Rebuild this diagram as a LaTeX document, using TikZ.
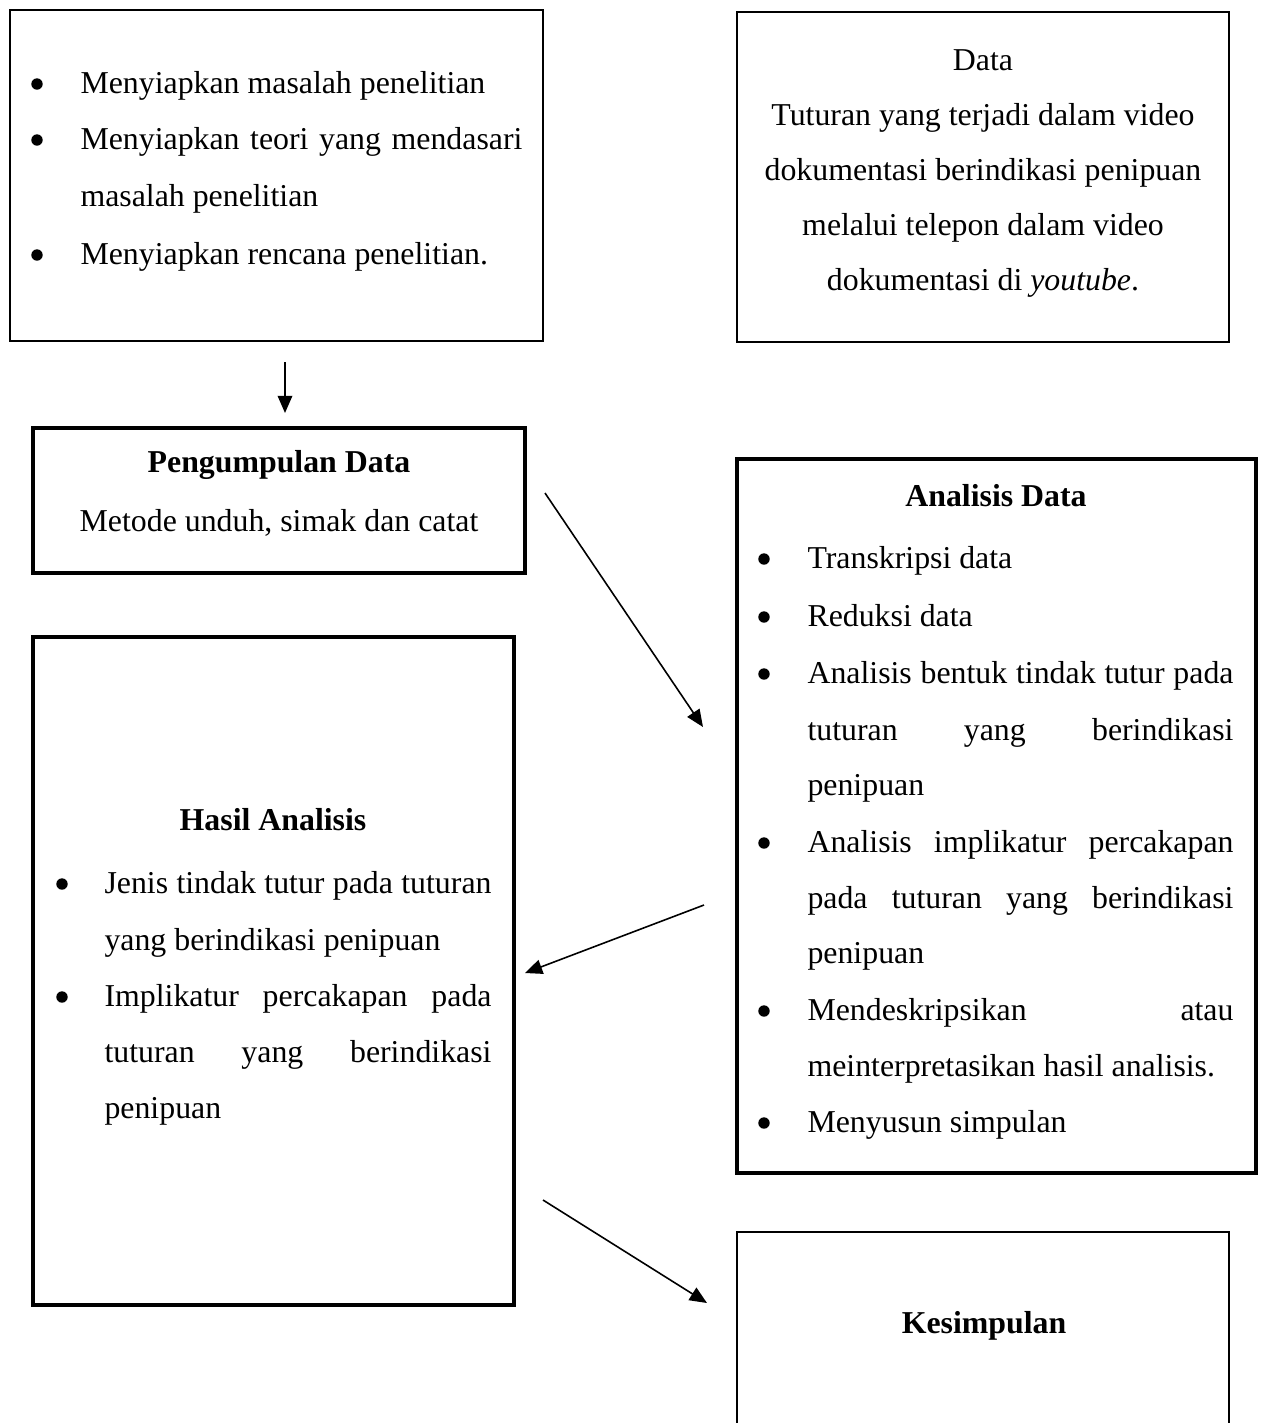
\documentclass[tikz,border=0pt]{standalone}
\usepackage{fontspec}
\setmainfont{Liberation Serif}
\usetikzlibrary{arrows.meta}
\begin{document}
\begin{tikzpicture}[x=0.377pt,y=-0.377pt,
 thinbox/.style={draw, line width=0.8pt, anchor=north west, inner sep=0pt, outer sep=0pt},
 thickbox/.style={draw, line width=1.7pt, anchor=north west, inner sep=0pt, outer sep=0pt},
 txt/.style={anchor=base west, inner sep=0pt, font=\fontsize{12}{14}\selectfont},
 ctxt/.style={anchor=base, inner sep=0pt, font=\fontsize{12}{14}\selectfont},
 btxt/.style={anchor=base, inner sep=0pt, font=\fontsize{12}{14}\selectfont\bfseries},
 bul/.style={circle, fill, inner sep=0pt, minimum size=4.3pt},
 arr/.style={line width=0.6pt, -{Triangle[length=6.5pt,width=5.5pt]}}]
\useasboundingbox (0,0) rectangle (1261,1423);

% boxes
\node[thinbox, minimum width=533*0.377pt, minimum height=331*0.377pt] (b1) at (10,10) {};
\node[thinbox, minimum width=492*0.377pt, minimum height=330*0.377pt] (b2) at (737,12) {};
\node[thickbox, minimum width=492*0.377pt, minimum height=145*0.377pt] (b3) at (33,428) {};
\node[thickbox, minimum width=519*0.377pt, minimum height=714*0.377pt] (b4) at (737,459) {};
\node[thickbox, minimum width=481*0.377pt, minimum height=668*0.377pt] (b5) at (33,637) {};
\draw[line width=0.8pt] (737,1423) -- (737,1232) -- (1229,1232) -- (1229,1423);

% box 1
\node[bul] (b1d1) at (37,84) {};
\node[txt] (b1l1) at (80,93) {Menyiapkan masalah penelitian};
\node[bul] (b1d2) at (37,140) {};
\node[txt] (b1l2) at (80,149) {\makebox[166.6pt][s]{Menyiapkan teori yang mendasari}};
\node[txt] (b1l3) at (80,206) {masalah penelitian};
\node[bul] (b1d3) at (37,255) {};
\node[txt] (b1l4) at (80,264) {Menyiapkan rencana penelitian.};

% box 2
\node[ctxt] (b2l1) at (983,70) {Data};
\node[ctxt] (b2l2) at (983,125) {Tuturan yang terjadi dalam video};
\node[ctxt] (b2l3) at (983,180) {dokumentasi berindikasi penipuan};
\node[ctxt] (b2l4) at (983,235) {melalui telepon dalam video};
\node[ctxt] (b2l5) at (983,290) {dokumentasi di \textit{youtube}.};

% box 3
\node[btxt] (b3l1) at (279,472) {Pengumpulan Data};
\node[ctxt] (b3l2) at (279,531) {Metode unduh, simak dan catat};

% box 4
\node[btxt] (b4t) at (996,506) {Analisis Data};
\node[bul] (b4d1) at (764,559) {};
\node[txt] (b4l1) at (807,568) {Transkripsi data};
\node[bul] (b4d2) at (764,617) {};
\node[txt] (b4l2) at (807,626) {Reduksi data};
\node[bul] (b4d3) at (764,674) {};
\node[txt] (b4l3) at (807,683) {\makebox[160.6pt][s]{Analisis bentuk tindak tutur pada}};
\node[txt] (b4l4) at (807,740) {\makebox[160.6pt][s]{tuturan yang berindikasi}};
\node[txt] (b4l5) at (807,795) {penipuan};
\node[bul] (b4d4) at (764,843) {};
\node[txt] (b4l6) at (807,852) {\makebox[160.6pt][s]{Analisis implikatur percakapan}};
\node[txt] (b4l7) at (807,908) {\makebox[160.6pt][s]{pada tuturan yang berindikasi}};
\node[txt] (b4l8) at (807,963) {penipuan};
\node[bul] (b4d5) at (764,1011) {};
\node[txt] (b4l9) at (807,1020) {\makebox[160.6pt][s]{Mendeskripsikan atau}};
\node[txt] (b4l10) at (807,1076) {meinterpretasikan hasil analisis.};
\node[bul] (b4d6) at (764,1123) {};
\node[txt] (b4l11) at (807,1132) {Menyusun simpulan};

% box 5
\node[btxt] (b5t) at (273,830) {Hasil Analisis};
\node[bul] (b5d1) at (62,884) {};
\node[txt] (b5l1) at (104,893) {\makebox[145.9pt][s]{Jenis tindak tutur pada tuturan}};
\node[txt] (b5l2) at (104,950) {yang berindikasi penipuan};
\node[bul] (b5d2) at (62,997) {};
\node[txt] (b5l3) at (104,1006) {\makebox[145.9pt][s]{Implikatur percakapan pada}};
\node[txt] (b5l4) at (104,1062) {\makebox[145.9pt][s]{tuturan yang berindikasi}};
\node[txt] (b5l5) at (104,1118) {penipuan};

% box 6
\node[btxt] (b6t) at (984,1333) {Kesimpulan};

% arrows
\coordinate (a1s) at (285,362); \coordinate (a1e) at (285,413);
\coordinate (a2s) at (545,493); \coordinate (a2e) at (703,727);
\coordinate (a3s) at (704,905); \coordinate (a3e) at (525,973);
\coordinate (a4s) at (543,1200); \coordinate (a4e) at (707,1303);
\draw[arr] (a1s) -- (a1e);
\draw[arr] (a2s) -- (a2e);
\draw[arr] (a3s) -- (a3e);
\draw[arr] (a4s) -- (a4e);
\end{tikzpicture}
\end{document}
